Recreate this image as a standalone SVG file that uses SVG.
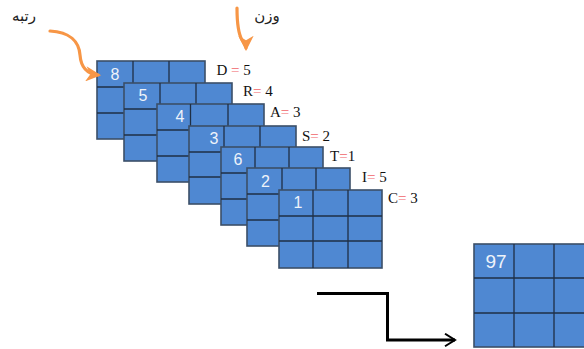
<svg xmlns="http://www.w3.org/2000/svg" width="584" height="349" viewBox="0 0 584 349">
<style>
.cell{fill:#4f88d2;stroke:#3b4f68;stroke-width:1.6}
.ln{stroke:#1f2f45;stroke-width:1.3;fill:none}
.num{font-family:"Liberation Sans",Arial,sans-serif;font-size:16px;fill:#eef3fa}
.lbl{font-family:"Liberation Serif","Times New Roman",serif;font-size:15px;fill:#111}
.eq{fill:#f0646a}
.ar{font-family:"DejaVu Serif","DejaVu Sans",serif;font-size:15px;fill:#222}
.or{stroke:#f79646;stroke-width:3.2;fill:none;stroke-linecap:round}
.bk{stroke:#000;stroke-width:3;fill:none}
</style>
<defs>
<marker id="oh" viewBox="0 0 10 10" refX="8" refY="5" markerWidth="4.8" markerHeight="4.8" orient="auto" markerUnits="strokeWidth">
<path d="M0,0 L10,5 L0,10 L3,5 Z" fill="#f79646"/>
</marker>
<marker id="bh" viewBox="0 0 12 12" refX="10" refY="6" markerWidth="5" markerHeight="5" orient="auto" markerUnits="strokeWidth">
<path d="M2,1 L10,6 L2,11" fill="none" stroke="#000" stroke-width="1.6"/>
</marker>
</defs>

<g id="grid-1">
<rect class="cell" x="97" y="61" width="108" height="78"/>
<path class="ln" d="M133,61V139M169,61V139M97,87H205M97,113H205"/>
<text class="num" x="115" y="80" text-anchor="middle">8</text>
</g>
<g id="grid-2">
<rect class="cell" x="124" y="83" width="108" height="78"/>
<path class="ln" d="M160,83V161M196,83V161M124,109H232M124,135H232"/>
<text class="num" x="143" y="101" text-anchor="middle">5</text>
</g>
<g id="grid-3">
<rect class="cell" x="157" y="104" width="107" height="78"/>
<path class="ln" d="M190.5,104V182M228,104V182M157,130H264M157,156H264"/>
<text class="num" x="180" y="122" text-anchor="middle">4</text>
</g>
<g id="grid-4">
<rect class="cell" x="189" y="126" width="107" height="78"/>
<path class="ln" d="M224,126V204M260,126V204M189,152H296M189,177H296"/>
<text class="num" x="214" y="144" text-anchor="middle">3</text>
</g>
<g id="grid-5">
<rect class="cell" x="221" y="147" width="102" height="78"/>
<path class="ln" d="M255,147V225M289,147V225M221,173H323M221,199H323"/>
<text class="num" x="238" y="165" text-anchor="middle">6</text>
</g>
<g id="grid-6">
<rect class="cell" x="247" y="168" width="103" height="78"/>
<path class="ln" d="M282,168V246M316,168V246M247,194H350M247,220H350"/>
<text class="num" x="265.5" y="187" text-anchor="middle">2</text>
</g>
<g id="grid-7">
<rect class="cell" x="279" y="190" width="103" height="78"/>
<path class="ln" d="M313,190V268M348,190V268M279,216H382M279,241H382"/>
<text class="num" x="298" y="208" text-anchor="middle">1</text>
</g>
<g id="grid-result">
<rect class="cell" x="474" y="244" width="122" height="103"/>
<path class="ln" d="M514,244V347M554,244V347M474,278H596M474,313H596"/>
<text class="num" x="496" y="268" text-anchor="middle" style="font-size:19px">97</text>
</g>

<g id="labels">
<text class="lbl" x="216.5" y="75">D <tspan class="eq">=</tspan> 5</text>
<text class="lbl" x="243" y="96">R<tspan class="eq">=</tspan> 4</text>
<text class="lbl" x="270" y="117">A<tspan class="eq">=</tspan> 3</text>
<text class="lbl" x="302" y="141">S<tspan class="eq">=</tspan> 2</text>
<text class="lbl" x="330" y="161">T<tspan class="eq">=</tspan>1</text>
<text class="lbl" x="362" y="182">I<tspan class="eq">=</tspan> 5</text>
<text class="lbl" x="388" y="203">C<tspan class="eq">=</tspan> 3</text>
<text class="ar" x="24" y="21" text-anchor="middle" direction="rtl">رتبه</text>
<text class="ar" x="267" y="21" text-anchor="middle" direction="rtl">وزن</text>
</g>

<g id="connectors">
<path class="or" d="M50,31 C70,32 79,42 80,55 C81,68 88,74 98,75" marker-end="url(#oh)"/>
<path class="or" d="M237,8 C237,20 238,33 242,40 C245,45 246,46 246,48" marker-end="url(#oh)"/>
<path class="bk" d="M317,293.5 H387.5 V340 H455" marker-end="url(#bh)"/>
</g>
</svg>
